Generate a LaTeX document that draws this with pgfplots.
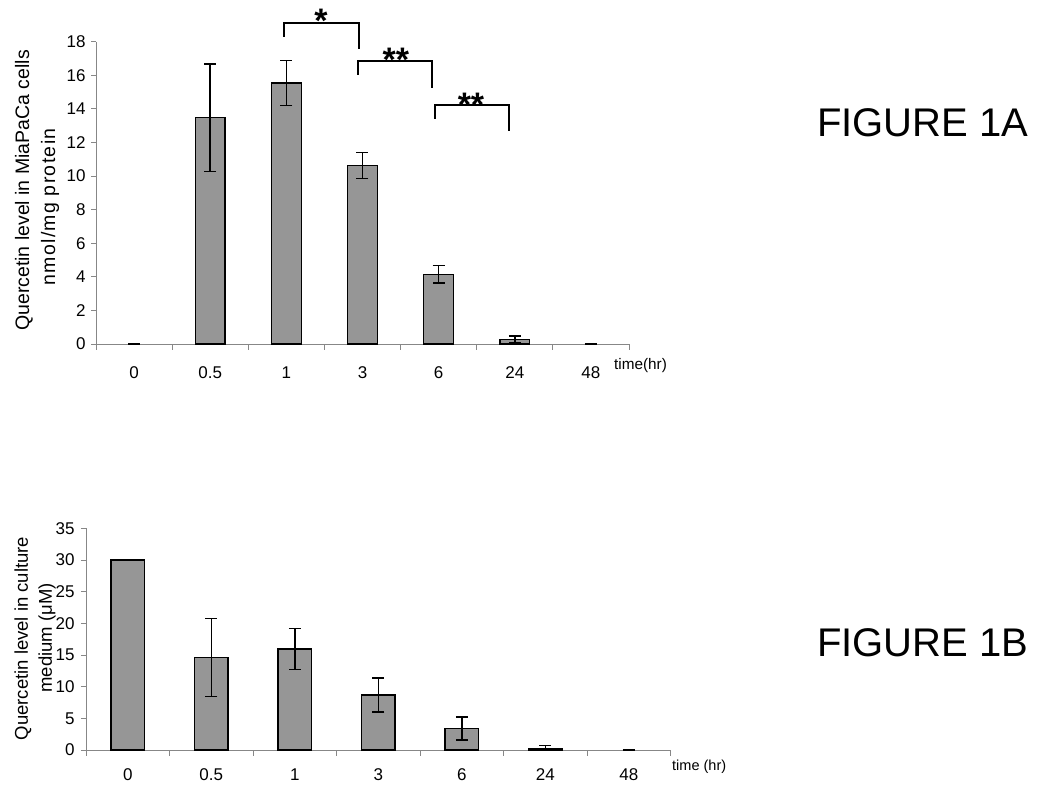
\documentclass[border=0pt]{standalone}
\usepackage{fontspec}
\setmainfont{Liberation Sans}
\usepackage{pgfplots}
\pgfplotsset{compat=1.18}
\definecolor{barfill}{RGB}{150,150,150}
\definecolor{axgray}{RGB}{135,135,135}
\begin{document}
\begin{tikzpicture}
\path[use as bounding box] (0pt,0pt) rectangle (1050pt,794pt);
\pgfplotsset{
  excel/.style={
    scale only axis,
    anchor=south west,
    axis x line=bottom, axis y line=left,
    axis line style={axgray, line width=0.8pt, -},
    xmin=-0.5, xmax=6.5, ymin=0,
    xtick={0,...,6},
    xticklabels={0,0.5,1,3,6,24,48},
    major x tick style={draw=none},
    minor xtick={-0.5,0.5,...,6.5},
    minor x tick style={axgray, line width=0.8pt},
    minor tick length=6pt,
    tick align=outside,
    major tick length=5pt,
    y tick style={axgray, line width=0.8pt},
    tick label style={font=\fontsize{17}{19}\selectfont},
    /pgf/number format/assume math mode=true,
    clip=false,
  },
  barsty/.style={ybar, bar shift=0pt, fill=barfill, draw=black, line width=1.4pt,
    error bars/.cd, y dir=both, y explicit,
    error bar style={draw=black, line width=1.5pt},
    error mark options={rotate=90, mark size=6pt, draw=black, line width=1.5pt},
    /pgfplots/.cd},
  zerosty/.style={ybar, bar shift=0pt, fill=none, draw=none,
    error bars/.cd, y dir=both, y explicit,
    error bar style={draw=black, line width=1.5pt},
    error mark options={rotate=90, mark size=6pt, draw=black, line width=1.5pt},
    /pgfplots/.cd},
}
% ---------- Figure 1A ----------
\begin{axis}[excel, at={(96pt,450pt)}, width=533pt, height=302.3pt,
  ymax=18, ytick={0,2,...,18},
  xticklabel style={anchor=center, yshift=-23.7pt},
  yticklabel style={xshift=-2pt}]
\addplot[bar width=0.39, barsty] coordinates {
  (1,13.47) +- (0,3.2)
  (2,15.54) +- (0,1.35)
  (3,10.63) +- (0,0.78)
  (4,4.15)  +- (0,0.52)
  (5,0.28)  +- (0,0.19)
};
\addplot[bar width=0.39, zerosty] coordinates {
  (0,0) +- (0,0)
  (6,0) +- (0,0)
};
\end{axis}
% ---------- Figure 1B ----------
\begin{axis}[excel, at={(86pt,44pt)}, width=584.7pt, height=221.7pt,
  ymax=35, ytick={0,5,...,35},
  xticklabel style={anchor=center, yshift=-19.5pt},
  yticklabel style={xshift=-3pt}]
\addplot[bar width=0.4, barsty] coordinates {
  (0,30)    +- (0,0)
  (1,14.63) +- (0,6.15)
  (2,15.95) +- (0,3.22)
  (3,8.7)   +- (0,2.7)
  (4,3.4)   +- (0,1.82)
  (5,0.26)  += (0,0.48) -= (0,0.2)
};
\addplot[bar width=0.4, zerosty] coordinates {
  (6,0) +- (0,0)
};
\end{axis}
% axis titles
\node[rotate=90, font=\fontsize{19.5}{22}\selectfont] at (24pt,603.5pt) {Quercetin level in MiaPaCa cells};
\node[rotate=90, font=\fontsize{19.5}{22}\selectfont\addfontfeature{LetterSpace=6.8}] at (50pt,587pt) {nmol/mg protein};
\node[rotate=90, font=\fontsize{18.5}{22}\selectfont] at (23pt,155.5pt) {Quercetin level in culture};
\node[rotate=90, font=\fontsize{18.5}{22}\selectfont] at (47pt,156pt) {medium (μM)};
\node[anchor=west, inner sep=0pt, font=\fontsize{15.3}{17}\selectfont] at (614pt,428.5pt) {time(hr)};
\node[anchor=west, inner sep=0pt, font=\fontsize{14.5}{16}\selectfont] at (672pt,27.5pt) {time (hr)};
% significance brackets
\draw[line width=2pt] (284pt,757.3pt) -- (284pt,771.3pt) -- (359.3pt,771.3pt) -- (359.3pt,744.7pt);
\draw[line width=2pt] (357.7pt,719pt) -- (357.7pt,733pt) -- (432pt,733pt) -- (432pt,705.7pt);
\draw[line width=2pt] (434.7pt,675pt) -- (434.7pt,689.3pt) -- (509pt,689.3pt) -- (509pt,663pt);
\node[anchor=base, inner sep=0pt, font=\fontsize{34}{36}\bfseries] at (321pt,761.5pt) {*};
\node[anchor=base, inner sep=0pt, font=\fontsize{34}{36}\bfseries] at (395.8pt,722.5pt) {**};
\node[anchor=base, inner sep=0pt, font=\fontsize{34}{36}\bfseries] at (471pt,677.8pt) {**};
% figure labels
\node[anchor=base west, inner sep=0pt, font=\fontsize{40}{44}\selectfont] at (817pt,657.3pt) {FIGURE 1A};
\node[anchor=base west, inner sep=0pt, font=\fontsize{40}{44}\selectfont] at (817pt,137.3pt) {FIGURE 1B};
\end{tikzpicture}
\end{document}
